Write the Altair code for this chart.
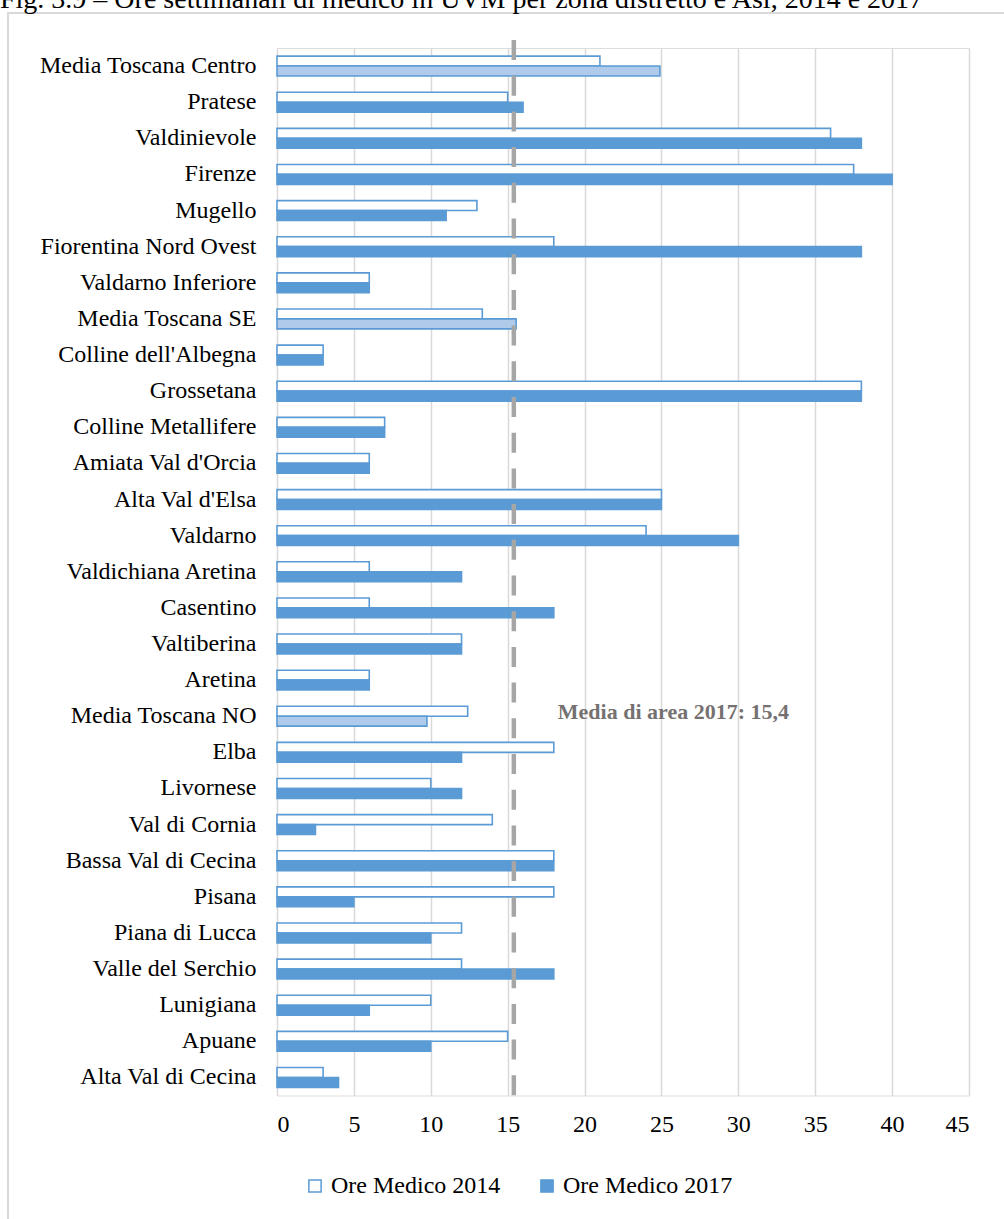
import altair as alt
import pandas as pd

cats = ["Media Toscana Centro", "Pratese", "Valdinievole", "Firenze", "Mugello",
        "Fiorentina Nord Ovest", "Valdarno Inferiore", "Media Toscana SE",
        "Colline dell'Albegna", "Grossetana", "Colline Metallifere", "Amiata Val d'Orcia",
        "Alta Val d'Elsa", "Valdarno", "Valdichiana Aretina", "Casentino", "Valtiberina",
        "Aretina", "Media  Toscana NO", "Elba", "Livornese", "Val di Cornia",
        "Bassa Val di Cecina", "Pisana", "Piana di Lucca", "Valle del Serchio",
        "Lunigiana", "Apuane", "Alta Val di Cecina"]
v2014 = [21, 15, 36, 37.5, 13, 18, 6, 13.35, 3, 38, 7, 6, 25, 24, 6, 6, 12, 6, 12.4,
         18, 10, 14, 18, 18, 12, 12, 10, 15, 3]
v2017 = [24.9, 16, 38, 40, 11, 38, 6, 15.55, 3, 38, 7, 6, 25, 30, 12, 18, 12, 6, 9.75,
         12, 12, 2.5, 18, 5, 10, 18, 6, 10, 4]
media_rows = ["Media Toscana Centro", "Media Toscana SE", "Media  Toscana NO"]
series = ["Ore Medico 2014", "Ore Medico 2017"]
media_area = 15.4
annot_text = "Media di area 2017: 15,4"
title_text = "Fig. 3.9 – Ore settimanali di medico in UVM per zona distretto e Asl, 2014 e 2017"

rows = []
for c, a, b in zip(cats, v2014, v2017):
    rows.append({"cat": c, "series": series[0], "value": a, "fillKey": series[0]})
    rows.append({"cat": c, "series": series[1], "value": b,
                 "fillKey": "Media 2017" if c in media_rows else series[1]})
df = pd.DataFrame(rows)

FONT = "Liberation Serif"
BLUE = "#5B9BD5"
W, H = 692, 1047.5

xscale = alt.Scale(domain=[0, 45], nice=False)
yscale = alt.Scale(domain=cats, paddingInner=0.45, paddingOuter=0.225)

bars = alt.Chart(df).mark_bar(stroke=BLUE, strokeWidth=1.6).encode(
    x=alt.X("value:Q", scale=xscale,
            axis=alt.Axis(values=list(range(0, 50, 5)), title=None, grid=True,
                          gridColor="#D9D9D9", gridWidth=1.5, domain=False, ticks=False,
                          labelPadding=17, labelFontSize=24, labelFont=FONT,
                          labelColor="#000000")),
    y=alt.Y("cat:N", sort=cats, scale=yscale,
            axis=alt.Axis(title=None, domain=False, ticks=False, grid=False,
                          labelPadding=21, labelFontSize=24, labelFont=FONT,
                          labelColor="#000000", labelLimit=400)),
    yOffset=alt.YOffset("series:N", sort=series),
    fill=alt.Fill("fillKey:N",
                  scale=alt.Scale(domain=series + ["Media 2017"],
                                  range=["#FFFFFF", BLUE, "#AFCAEA"]),
                  legend=alt.Legend(values=series, title=None, orient="none",
                                    legendX=26, legendY=1126, direction="horizontal",
                                    symbolType="square", symbolSize=150,
                                    symbolStrokeColor=BLUE, symbolStrokeWidth=1.5,
                                    labelFontSize=24, labelFont=FONT, labelColor="#000000",
                                    labelLimit=400, columnPadding=34, labelOffset=4)),
)

rule = alt.Chart(pd.DataFrame({"x": [media_area]})).mark_rule(
    color="#A6A6A6", strokeWidth=4.5, strokeDash=[20, 15.7]
).encode(x=alt.X("x:Q", scale=xscale), y=alt.value(-8), y2=alt.value(H))

annot = alt.Chart(pd.DataFrame({"x": [media_area], "cat": ["Media  Toscana NO"],
                                "t": [annot_text]})).mark_text(
    align="left", baseline="middle", dx=44, dy=-4, fontSize=22, fontWeight="bold",
    font=FONT, color="#767171"
).encode(x=alt.X("x:Q", scale=xscale), y=alt.Y("cat:N", sort=cats, scale=yscale),
         text="t:N")

title = alt.Chart(pd.DataFrame({"t": [title_text]})).mark_text(
    align="left", baseline="alphabetic", fontSize=28, font=FONT, color="#000000"
).encode(x=alt.value(-277), y=alt.value(-40), text="t:N")

frame = alt.Chart(pd.DataFrame({"a": [0]})).mark_rect(
    fill=None, stroke="#D9D9D9", strokeWidth=2
).encode(x=alt.value(-269), x2=alt.value(760), y=alt.value(-35), y2=alt.value(1250))

chart = alt.layer(frame, bars, rule, annot, title).properties(
    width=W, height=H,
    padding={"left": 277, "top": 48, "right": 35, "bottom": 123.5},
    autosize=alt.AutoSizeParams(type="none"),
).configure_view(stroke=None).configure(background="#FFFFFF")

chart.save("out.html", embed_options={"renderer": "svg", "actions": False})
